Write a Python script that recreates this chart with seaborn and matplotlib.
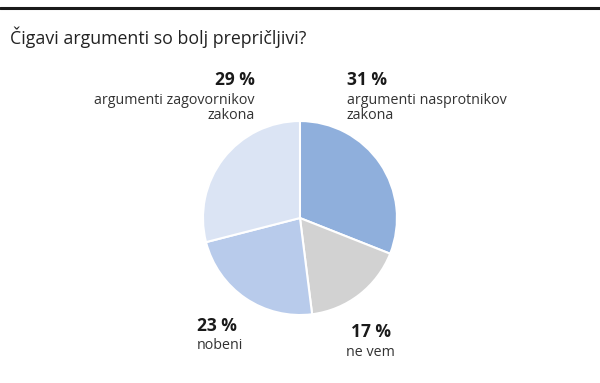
import matplotlib
matplotlib.use('Agg')
import matplotlib.pyplot as plt
import seaborn as sns

# Data
categories = ['argumenti nasprotnikov\nzakona', 'ne vem', 'nobeni', 'argumenti zagovornikov\nzakona']
values = [31, 17, 23, 29]
colors = ['#8fafdc', '#d2d2d2', '#b8cbeb', '#dbe4f4']

sns.set_theme(style='white')
plt.rcParams['font.family'] = ['Open Sans', 'DejaVu Sans']

fig = plt.figure(figsize=(6, 3.83), dpi=100)

# top rule
fig.add_artist(plt.Line2D([0, 1], [0.979, 0.979], color='#1a1a1a', linewidth=2.2, transform=fig.transFigure))

fig.text(0.017, 0.903, 'Čigavi argumenti so bolj prepričljivi?', fontsize=12.8, color='#222222',
         ha='left', va='center')

ax = fig.add_axes([0.3383, 0.1775, 0.3233, 0.5065])
ax.pie(values, colors=colors, startangle=90, counterclock=False,
       wedgeprops=dict(edgecolor='white', linewidth=1.5))
ax.set_xlim(-1, 1)
ax.set_ylim(-1, 1)
ax.set_aspect('equal')
ax.axis('off')

# labels: (x, y, ha) in figure coords
label_pos = [(0.578, 0.790, 'left'), (0.618, 0.132, 'center'), (0.328, 0.150, 'left'), (0.424, 0.790, 'right')]
for (x, y, ha), val, cat in zip(label_pos, values, categories):
    fig.text(x, y, f'{val} %', fontsize=12.5, fontweight='bold', color='#1a1a1a', ha=ha, va='center')
    fig.text(x, y - 0.033, cat, fontsize=10.3, color='#333333', ha=ha, va='top', linespacing=1.0)

fig.savefig('out.png', dpi=100, facecolor='white')
